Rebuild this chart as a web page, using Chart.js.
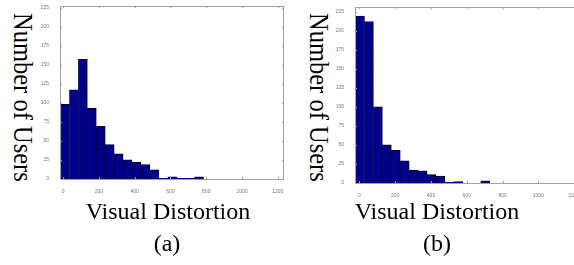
<!DOCTYPE html>
<html>
<head>
<meta charset="utf-8">
<script src="https://cdn.jsdelivr.net/npm/chart.js@4/dist/chart.umd.min.js"></script>
<style>
  body { margin: 0; width: 574px; height: 265px; overflow: hidden; background: #fff; position: relative;
         font-family: "Liberation Serif", "Times New Roman", serif; color: #000; }
  canvas { position: absolute; top: 0; }
  .lbl { position: absolute; font-size: 24px; line-height: 24px; white-space: nowrap; text-align: center; width: 200px; }
  .ylbl { position: absolute; font-size: 24.5px; line-height: 24.5px; white-space: nowrap;
          transform-origin: 0 0; transform: rotate(90deg) scale(1, 1.08); }
</style>
</head>
<body>
<div class="ylbl" style="left:36px; top:13px;">Number of Users</div>
<div class="ylbl" style="left:332px; top:13px;">Number of Users</div>
<canvas id="chartA" width="257" height="200" style="left:30px"></canvas>
<canvas id="chartB" width="258" height="200" style="left:325px"></canvas>
<div class="lbl" style="left:68px; top:199px;">Visual Distortion</div>
<div class="lbl" style="left:337px; top:199px;">Visual Distortion</div>
<div class="lbl" style="left:67px; top:231px;">(a)</div>
<div class="lbl" style="left:337px; top:231px;">(b)</div>
<script>
// histogram bin centres and counts
const binsA = [10, 60, 110, 160, 210, 260, 310, 360, 410, 460, 510, 560, 610, 660, 710, 760];
const usersA = [98, 117, 157, 93, 69, 45, 33, 25, 22, 19, 12, 1, 3, 1, 1, 3];
const binsB = [3, 53, 103, 153, 203, 253, 303, 353, 403, 453, 503, 553, 603, 653, 703];
const usersB = [219, 212, 100, 50, 43, 29, 17, 16, 11, 9, 1, 2, 0, 0, 3];
const xTicks = [0, 200, 400, 600, 800, 1000, 1200];
const yTicks = [0, 25, 50, 75, 100, 125, 150, 175, 200, 225];

// matlab style box with inward tick marks
const boxTicks = {
  id: "boxTicks",
  afterDraw(chart) {
    const { ctx, chartArea: a, scales: { x, y } } = chart;
    ctx.save();
    ctx.strokeStyle = "#a0a0a0";
    ctx.lineWidth = 1;
    ctx.strokeRect(a.left + 0.5, a.top + 0.5, a.right - a.left - 1, a.bottom - a.top);
    ctx.beginPath();
    x.ticks.forEach(function (t) {
      const px = Math.round(x.getPixelForValue(t.value)) + 0.5;
      ctx.moveTo(px, a.bottom); ctx.lineTo(px, a.bottom - 2);
      ctx.moveTo(px, a.top); ctx.lineTo(px, a.top + 2);
    });
    y.ticks.forEach(function (t) {
      const py = Math.round(y.getPixelForValue(t.value)) + 0.5;
      ctx.moveTo(a.left, py); ctx.lineTo(a.left + 2, py);
      ctx.moveTo(a.right, py); ctx.lineTo(a.right - 2, py);
    });
    ctx.stroke();
    ctx.restore();
  }
};

function makeChart(id, bins, counts, xMin, xMax, yMax, padTop, xHeight) {
  var ctx = document.getElementById(id).getContext("2d");
  return new Chart(ctx, {
    type: "bar",
    data: {
      datasets: [{
        data: bins.map(function (b, i) { return { x: b, y: counts[i] }; }),
        backgroundColor: "#00008f",
        borderColor: "#000033",
        borderWidth: 1,
        barPercentage: 1,
        categoryPercentage: 1,
      }],
    },
    options: {
      responsive: false,
      animation: false,
      layout: { padding: { left: 0, top: padTop, right: 3, bottom: 0 } },
      plugins: { legend: { display: false }, tooltip: { enabled: false } },
      scales: {
        x: {
          type: "linear",
          offset: false,
          min: xMin,
          max: xMax,
          afterBuildTicks: function (s) { s.ticks = xTicks.map(function (v) { return { value: v }; }); },
          afterFit: function (s) { s.height = xHeight; },
          grid: { display: false },
          border: { display: false },
          ticks: { padding: 2, color: "#777", maxRotation: 0, font: { size: 5, family: "Liberation Sans" },
                   callback: function (v) { return String(v); } },
        },
        y: {
          min: 0,
          max: yMax,
          afterBuildTicks: function (s) { s.ticks = yTicks.map(function (v) { return { value: v }; }); },
          afterFit: function (s) { s.width = 30; },
          grid: { display: false },
          border: { display: false },
          ticks: { padding: 3, color: "#777", font: { size: 5, family: "Liberation Sans" } },
        },
      },
    },
    plugins: [boxTicks],
  });
}

makeChart("chartA", binsA, usersA, -18, 1235, 227, 4, 21);
makeChart("chartB", binsB, usersB, -25, 1233, 231, 7, 17);
</script>
</body>
</html>
